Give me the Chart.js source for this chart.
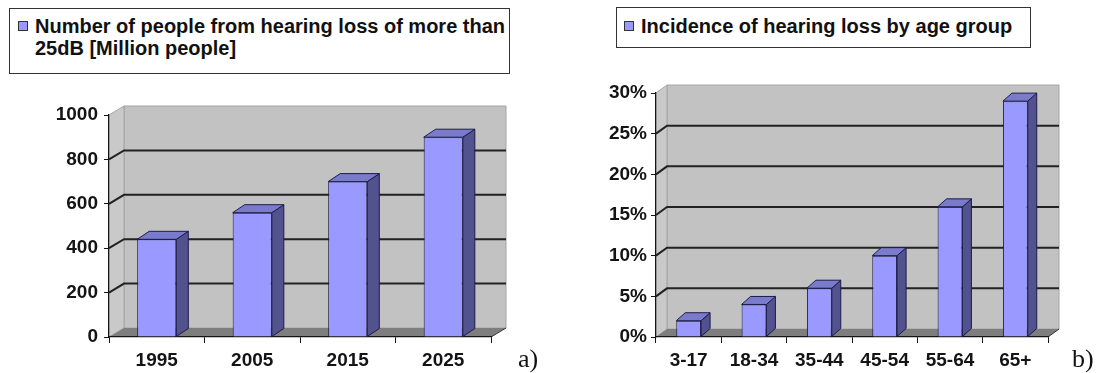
<!DOCTYPE html>
<html>
<head>
<meta charset="utf-8">
<script src="https://cdn.jsdelivr.net/npm/chart.js@4.4.1/dist/chart.umd.min.js"></script>
<style>
  html, body { margin: 0; padding: 0; background: #fff; }
  body { position: relative; width: 1098px; height: 373px; overflow: hidden; font-family: "Liberation Sans", Arial, sans-serif; }
  canvas { position: absolute; top: 0; }
  #chartA { left: 0; }
  #chartB { left: 560px; }
  .legend { position: absolute; box-sizing: border-box; border: 1.5px solid #333; background: #fff; font-weight: bold; font-size: 20px; line-height: 22px; color: #111; }
  .legend .swatch { position: absolute; width: 8px; height: 8px; border: 1px solid #333; }
  .legend .text { position: absolute; white-space: nowrap; }
  #legendA { left: 9px; top: 8px; width: 501px; height: 66px; }
  #legendA .swatch { left: 8px; top: 12px; }
  #legendA .text { left: 25px; top: 6px; }
  #legendB { left: 616px; top: 7px; width: 415px; height: 41px; }
  #legendB .swatch { left: 7px; top: 13px; }
  #legendB .text { left: 24px; top: 7px; }
  .tag { position: absolute; font-family: "Liberation Serif", "DejaVu Serif", serif; font-size: 26px; line-height: 1; color: #111; }
</style>
</head>
<body>
<canvas id="chartA" width="560" height="373"></canvas>
<canvas id="chartB" width="538" height="373"></canvas>
<div class="legend" id="legendA"><span class="swatch"></span><div class="text"></div></div>
<div class="legend" id="legendB"><span class="swatch"></span><div class="text"></div></div>
<div class="tag" style="left:518px; top:346px;">a)</div>
<div class="tag" style="left:1072px; top:346px;">b)</div>
<script>
// --- data ---
const years = ['1995', '2005', '2015', '2025'];
const peopleMillions = [440, 560, 700, 900];
const yTicksA = [0, 200, 400, 600, 800, 1000];
const seriesLabelA = ['Number of people from hearing loss of more than', '25dB [Million people]'];

const ageGroups = ['3-17', '18-34', '35-44', '45-54', '55-64', '65+'];
const incidencePct = [2, 4, 6, 10, 16, 29];
const yTicksB = [0, 5, 10, 15, 20, 25, 30];
const seriesLabelB = 'Incidence of hearing loss by age group';

// --- colours ---
const barFront = '#9999ff';
const barSide = '#52528f';
const barTop = '#7b7bcc';
const barEdge = '#1c1c4a';
const wallGray = '#c2c2c2';
const floorGray = '#7e7e7e';
const inkColor = '#141414';

Chart.defaults.font.family = '"Liberation Sans", Arial, sans-serif';
Chart.defaults.font.size = 19;
Chart.defaults.font.weight = 'bold';
Chart.defaults.color = inkColor;

function poly(ctx, pts, fill, stroke) {
    ctx.beginPath();
    ctx.moveTo(pts[0][0], pts[0][1]);
    for (let i = 1; i < pts.length; i++) ctx.lineTo(pts[i][0], pts[i][1]);
    ctx.closePath();
    if (fill) { ctx.fillStyle = fill; ctx.fill(); }
    if (stroke) { ctx.strokeStyle = stroke; ctx.lineWidth = 1; ctx.stroke(); }
}

// walls, floor and grid drawn in perspective, then side/top faces on the bars
const depth3d = {
    id: 'depth3d',
    beforeDraw(chart, args, opts) {
        const { ctx, chartArea: { left, right, top, bottom } } = chart;
        const dx = opts.wallDx, dy = opts.wallDy;
        const yScale = chart.scales.y;
        ctx.save();
        poly(ctx, [[left + dx, top + dy], [right + dx, top + dy], [right + dx, bottom + dy], [left + dx, bottom + dy]], wallGray, '#a4a4a4');
        poly(ctx, [[left, top], [left + dx, top + dy], [left + dx, bottom + dy], [left, bottom]], '#c9c9c9', '#a4a4a4');
        poly(ctx, [[left, bottom], [right, bottom], [right + dx, bottom + dy], [left + dx, bottom + dy]], floorGray, null);
        ctx.strokeStyle = '#333';
        ctx.lineWidth = 1;
        ctx.beginPath();
        ctx.moveTo(right, bottom);
        ctx.lineTo(right + dx, bottom + dy);
        ctx.stroke();

        ctx.strokeStyle = '#222';
        ctx.lineWidth = 2;
        yScale.ticks.forEach(t => {
            if (t.value === yScale.min || t.value === yScale.max) return;
            const py = yScale.getPixelForValue(t.value);
            ctx.beginPath();
            ctx.moveTo(left, py);
            ctx.lineTo(left + dx, py + dy);
            ctx.lineTo(right + dx, py + dy);
            ctx.stroke();
        });
        ctx.restore();
    },
    afterDatasetsDraw(chart, args, opts) {
        const ctx = chart.ctx;
        const dx = opts.barDx, dy = opts.barDy;
        ctx.save();
        chart.getDatasetMeta(0).data.forEach(bar => {
            const { x, y, width, base } = bar.getProps(['x', 'y', 'width', 'base'], true);
            const l = x - width / 2, r = x + width / 2;
            poly(ctx, [[r, y], [r + dx, y + dy], [r + dx, base + dy], [r, base]], barSide, barEdge);
            poly(ctx, [[l, y], [l + dx, y + dy], [r + dx, y + dy], [r, y]], barTop, barEdge);
        });
        ctx.restore();
    }
};

function makeChart(id, labels, values, yTicks, fmt, box, depth, barPct) {
    return new Chart(document.getElementById(id), {
        type: 'bar',
        data: {
            labels: labels,
            datasets: [{
                data: values,
                backgroundColor: barFront,
                borderColor: barEdge,
                borderWidth: 1,
                barPercentage: barPct,
                categoryPercentage: 1
            }]
        },
        options: {
            responsive: false,
            animation: false,
            layout: { padding: { left: 0, top: box.top, right: box.right, bottom: 0 } },
            plugins: {
                legend: { display: false },
                tooltip: { enabled: false },
                depth3d: depth
            },
            scales: {
                x: {
                    grid: { drawOnChartArea: false, tickLength: 6, color: inkColor, offset: true },
                    border: { color: inkColor, width: 1.2 },
                    ticks: { padding: 6 },
                    afterFit: s => { s.height = box.xHeight; }
                },
                y: {
                    min: yTicks[0],
                    max: yTicks[yTicks.length - 1],
                    afterBuildTicks: s => { s.ticks = yTicks.map(v => ({ value: v })); },
                    grid: { drawOnChartArea: false, tickLength: 5, color: inkColor },
                    border: { color: inkColor, width: 1.2 },
                    ticks: { padding: box.tickPad, callback: fmt },
                    afterFit: s => { s.width = box.left; }
                }
            }
        },
        plugins: [depth3d]
    });
}

const chartA = makeChart('chartA', years, peopleMillions, yTicksA, v => String(v),
    { left: 109, top: 115, right: 69, xHeight: 36, tickPad: 6 },
    { wallDx: 15, wallDy: -9, barDx: 12, barDy: -8 }, 0.41);

const chartB = makeChart('chartB', ageGroups, incidencePct, yTicksB, v => v + '%',
    { left: 96, top: 93, right: 50, xHeight: 36, tickPad: 4 },
    { wallDx: 11, wallDy: -8, barDx: 9, barDy: -8 }, 0.38);

// html legends from the dataset styles
function fillLegend(boxId, chart, lines) {
    const box = document.getElementById(boxId);
    box.querySelector('.swatch').style.background = chart.data.datasets[0].backgroundColor;
    const text = box.querySelector('.text');
    [].concat(lines).forEach((line, i) => {
        if (i) text.appendChild(document.createElement('br'));
        text.appendChild(document.createTextNode(line));
    });
}
fillLegend('legendA', chartA, seriesLabelA);
fillLegend('legendB', chartB, seriesLabelB);
</script>
</body>
</html>
